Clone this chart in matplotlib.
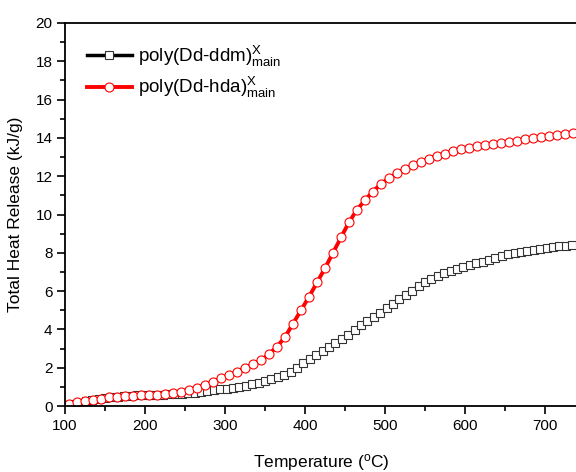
import matplotlib
matplotlib.use("Agg")
import matplotlib.pyplot as plt
from matplotlib.ticker import MultipleLocator

plt.rcParams['font.family'] = ['Liberation Sans', 'DejaVu Sans']
plt.rcParams['mathtext.fontset'] = 'custom'
plt.rcParams['mathtext.rm'] = 'Liberation Sans'
plt.rcParams['mathtext.it'] = 'Liberation Sans'

# poly(Dd-ddm) total heat release
temp_ddm = [110, 118, 126, 134, 142, 150, 158, 166, 174, 182, 190, 198, 206, 214,
            222, 230, 238, 246, 254, 262, 270, 278, 286, 294, 302, 310, 318, 326,
            334, 342, 350, 358, 366, 374, 382, 390, 398, 406, 414, 422, 430, 438,
            446, 454, 462, 470, 478, 486, 494, 502, 510, 518, 526, 534, 542, 550,
            558, 566, 574, 582, 590, 598, 606, 614, 622, 630, 638, 646, 654, 662,
            670, 678, 686, 694, 702, 710, 718, 726, 734]
thr_ddm = [0.10, 0.18, 0.26, 0.33, 0.38, 0.42, 0.46, 0.49, 0.51, 0.53, 0.55, 0.57,
           0.58, 0.59, 0.60, 0.61, 0.62, 0.64, 0.67, 0.70, 0.75, 0.80, 0.85, 0.88,
           0.91, 0.95, 1.00, 1.06, 1.13, 1.22, 1.32, 1.42, 1.52, 1.64, 1.80, 2.00,
           2.22, 2.45, 2.66, 2.87, 3.08, 3.28, 3.48, 3.70, 3.95, 4.22, 4.45, 4.66,
           4.86, 5.10, 5.35, 5.60, 5.82, 6.03, 6.25, 6.45, 6.62, 6.78, 6.92, 7.04,
           7.15, 7.26, 7.36, 7.45, 7.54, 7.64, 7.74, 7.83, 7.92, 7.99, 8.06, 8.12,
           8.17, 8.22, 8.26, 8.30, 8.34, 8.38, 8.43]

# poly(Dd-hda) total heat release
temp_hda = [105, 115, 125, 135, 145, 155, 165, 175, 185, 195, 205, 215, 225, 235,
            245, 255, 265, 275, 285, 295, 305, 315, 325, 335, 345, 355, 365, 375,
            385, 395, 405, 415, 425, 435, 445, 455, 465, 475, 485, 495, 505, 515,
            525, 535, 545, 555, 565, 575, 585, 595, 605, 615, 625, 635, 645, 655,
            665, 675, 685, 695, 705, 715, 725, 735]
thr_hda = [0.12, 0.22, 0.28, 0.33, 0.38, 0.45, 0.48, 0.50, 0.52, 0.55, 0.57, 0.59,
           0.63, 0.68, 0.75, 0.83, 0.95, 1.10, 1.26, 1.44, 1.60, 1.78, 2.00, 2.18,
           2.40, 2.70, 3.10, 3.60, 4.30, 5.00, 5.70, 6.45, 7.20, 8.00, 8.80, 9.60,
           10.25, 10.75, 11.20, 11.60, 11.90, 12.15, 12.38, 12.58, 12.76, 12.92,
           13.06, 13.18, 13.30, 13.40, 13.48, 13.56, 13.62, 13.68, 13.74, 13.80,
           13.86, 13.92, 13.98, 14.03, 14.08, 14.13, 14.18, 14.23]

W, H = 576, 472
fig = plt.figure(figsize=(W / 100, H / 100), dpi=100)
ax = fig.add_axes([65 / W, (H - 406) / H, 512 / W, 383 / H])

ax.plot(temp_ddm, thr_ddm, color='black', lw=2.5, marker='s', ms=6,
        mfc='white', mec='#333333', mew=0.8,
        label=r'poly(Dd-ddm)$^{\mathregular{X}}_{\mathregular{main}}$')
ax.plot(temp_hda, thr_hda, color='red', lw=2.8, marker='o', ms=6.5,
        mfc='white', mec='red', mew=0.8,
        label=r'poly(Dd-hda)$^{\mathregular{X}}_{\mathregular{main}}$')

ax.set_xlim(100, 740)
ax.set_ylim(0, 20)
ax.xaxis.set_major_locator(MultipleLocator(100))
ax.xaxis.set_minor_locator(MultipleLocator(50))
ax.yaxis.set_major_locator(MultipleLocator(2))
ax.yaxis.set_minor_locator(MultipleLocator(1))
ax.tick_params(which='major', direction='out', length=6, width=1.2, labelsize=11, pad=3)
ax.tick_params(which='minor', direction='out', length=3.5, width=1.2)
ax.tick_params(top=False, right=False)
for s in ['left', 'bottom', 'top']:
    ax.spines[s].set_linewidth(1.3)
ax.spines['right'].set_visible(False)

ax.set_xlabel(r'Temperature ($^{\mathregular{o}}$C)', fontsize=12.5, labelpad=14)
ax.set_ylabel('Total Heat Release (kJ/g)', fontsize=12.5, labelpad=9)

ax.legend(loc='upper left', bbox_to_anchor=(0.01, 0.99), frameon=False,
          fontsize=13.5, handlelength=2.4, handletextpad=0.3, labelspacing=0.35,
          markerscale=1.0)

fig.savefig('out.png', dpi=100)
